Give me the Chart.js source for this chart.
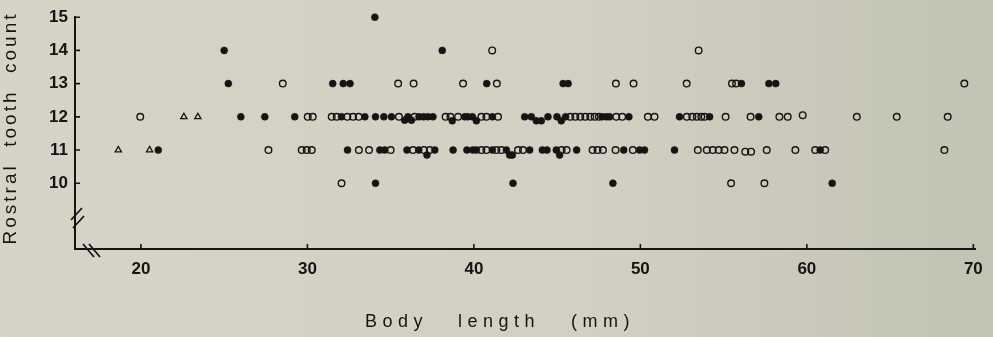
<!DOCTYPE html>
<html>
<head>
<meta charset="utf-8">
<script src="https://cdn.jsdelivr.net/npm/chart.js@4.4.1/dist/chart.umd.min.js"></script>
<style>
    html, body { margin: 0; padding: 0; background: #d4d0c4; }
    canvas { display: block; }
</style>
</head>
<body>
<canvas id="toothChart" width="993" height="337"></canvas>
<script>
const xTicks = [20, 30, 40, 50, 60, 70];
const yTicks = [10, 11, 12, 13, 14, 15];

// [body length, tooth count]; a few counts are nudged where marks overlap in the figure
const filledPoints = [
    [34.05, 15],
    [25.0, 14], [38.1, 14],
    [25.25, 13], [31.52, 13], [32.15, 13], [32.56, 13], [40.77, 13], [45.36, 13], [45.66, 13],
    [56.07, 13], [57.72, 13], [58.13, 13],
    [26.0, 12], [27.44, 12], [29.24, 12], [32.05, 12], [33.45, 12], [34.09, 12], [34.59, 12],
    [35.05, 12], [35.84, 11.9], [36.04, 12], [36.25, 11.9], [36.7, 12], [36.98, 12], [37.24, 12],
    [37.54, 12], [38.7, 11.88], [39.45, 12], [39.63, 12], [39.91, 12], [40.15, 11.88], [41.11, 12],
    [43.05, 12], [43.45, 12], [43.75, 11.88], [44.05, 11.88], [44.45, 12], [44.99, 12],
    [45.25, 11.88], [45.51, 12], [47.7, 12], [47.95, 12], [48.15, 12], [49.31, 12], [52.35, 12],
    [54.16, 12], [57.11, 12],
    [21.04, 11], [32.41, 11], [34.35, 11], [34.65, 11], [35.98, 11], [36.69, 11], [37.18, 10.85],
    [37.65, 11], [38.75, 11], [39.58, 11], [39.94, 11], [40.15, 11], [41.11, 11], [41.95, 11],
    [42.15, 10.85], [42.31, 10.85], [43.35, 11], [44.11, 11], [44.39, 11], [44.95, 11],
    [45.15, 10.85], [46.17, 11], [49.0, 11], [49.95, 11], [50.25, 11], [52.05, 11], [60.8, 11],
    [34.09, 10], [42.35, 10], [48.35, 10], [61.52, 10]
];

const openPoints = [
    [41.1, 14], [53.5, 14],
    [28.52, 13], [35.45, 13], [36.38, 13], [39.35, 13], [41.38, 13], [48.53, 13], [49.59, 13],
    [52.78, 13], [55.5, 13], [55.75, 13], [69.46, 13],
    [19.96, 12], [30.02, 12], [30.32, 12], [31.46, 12], [31.76, 12], [32.4, 12], [32.74, 12],
    [33.08, 12], [35.5, 12], [36.44, 12], [38.3, 12], [38.59, 12], [39.05, 12], [40.45, 12],
    [40.75, 12], [41.45, 12], [45.79, 12], [46.09, 12], [46.39, 12], [46.69, 12], [46.99, 12],
    [47.25, 12], [47.51, 12], [48.55, 12], [48.91, 12], [50.45, 12], [50.85, 12], [52.79, 12],
    [53.12, 12], [53.39, 12], [53.66, 12], [53.86, 12], [55.12, 12], [56.62, 12], [58.35, 12],
    [58.85, 12], [59.75, 12.05], [63.0, 12], [65.4, 12], [68.46, 12],
    [27.66, 11], [29.66, 11], [29.96, 11], [30.26, 11], [33.09, 11], [33.7, 11], [35.0, 11],
    [36.34, 11], [37.0, 11], [37.35, 11], [40.45, 11], [40.75, 11], [41.35, 11], [41.65, 11],
    [42.65, 11], [42.95, 11], [45.27, 11], [45.57, 11], [47.13, 11], [47.43, 11], [47.75, 11],
    [48.51, 11], [49.55, 11], [53.45, 11], [53.99, 11], [54.35, 11], [54.7, 11], [55.05, 11],
    [55.65, 11], [56.3, 10.95], [56.65, 10.95], [57.59, 11], [59.31, 11], [60.5, 11], [61.1, 11],
    [68.26, 11],
    [32.05, 10], [55.45, 10], [57.45, 10]
];

const trianglePoints = [
    [22.58, 12], [23.42, 12],
    [18.64, 11], [20.52, 11]
];

const ink = "#141414";

function toXY(points) {
    return points.map(p => ({ x: p[0], y: p[1] }));
}

// paper tone, slightly greyer to the right like the scan
const paperPlugin = {
    id: "paper",
    beforeDraw(chart) {
        const c = chart.ctx;
        const g = c.createLinearGradient(0, 0, chart.width, 0);
        g.addColorStop(0, "#d7d3c7");
        g.addColorStop(0.6, "#d2cfc3");
        g.addColorStop(1, "#c2c3b3");
        c.save();
        c.fillStyle = g;
        c.fillRect(0, 0, chart.width, chart.height);
        c.restore();
    }
};

// inward tick marks, axis breaks and the spaced axis titles
const decorPlugin = {
    id: "decor",
    afterDraw(chart) {
        const c = chart.ctx;
        const area = chart.chartArea;
        const xs = chart.scales.x;
        const ys = chart.scales.y;
        c.save();
        c.strokeStyle = ink;
        c.lineWidth = 1.6;
        c.beginPath();
        yTicks.forEach(v => {
            const py = ys.getPixelForValue(v);
            c.moveTo(area.left, py);
            c.lineTo(area.left + 5, py);
        });
        xTicks.forEach(v => {
            const px = xs.getPixelForValue(v);
            c.moveTo(px, area.bottom);
            c.lineTo(px, area.bottom - 5);
        });
        c.stroke();

        c.lineWidth = 1.8;
        c.beginPath();
        c.moveTo(area.left - 4, area.bottom - 29);
        c.lineTo(area.left + 7, area.bottom - 41);
        c.moveTo(area.left - 2, area.bottom - 21);
        c.lineTo(area.left + 9, area.bottom - 33);
        c.moveTo(area.left + 8, area.bottom - 5);
        c.lineTo(area.left + 19, area.bottom + 8);
        c.moveTo(area.left + 14, area.bottom - 5);
        c.lineTo(area.left + 25, area.bottom + 8);
        c.stroke();

        c.fillStyle = ink;
        c.font = '18px "Liberation Sans", Arial, sans-serif';
        c.letterSpacing = "5.5px";
        c.textAlign = "left";
        c.textBaseline = "alphabetic";
        c.fillText("Body", 365, 327);
        c.fillText("length", 458, 327);
        c.fillText("(mm)", 571, 327);

        c.font = '19px "Liberation Sans", Arial, sans-serif';
        c.translate(11, 128);
        c.rotate(-Math.PI / 2);
        c.letterSpacing = "3px";
        c.textAlign = "center";
        c.textBaseline = "middle";
        c.fillText("Rostral  tooth  count", 0, 0);
        c.restore();
    }
};

const tickFont = { family: '"Liberation Sans", Arial, sans-serif', size: 17, weight: "bold" };

new Chart(document.getElementById("toothChart"), {
    type: "scatter",
    data: {
        datasets: [
            {
                data: toXY(openPoints),
                pointStyle: "circle",
                pointRadius: 3.3,
                borderWidth: 1.4,
                borderColor: ink,
                backgroundColor: "rgba(0,0,0,0)",
                clip: false
            },
            {
                data: toXY(filledPoints),
                pointStyle: "circle",
                pointRadius: 3.5,
                borderWidth: 0.5,
                borderColor: ink,
                backgroundColor: ink,
                clip: false
            },
            {
                data: toXY(trianglePoints),
                pointStyle: "triangle",
                pointRadius: 3.6,
                borderWidth: 1.3,
                borderColor: ink,
                backgroundColor: "rgba(0,0,0,0)",
                clip: false
            }
        ]
    },
    options: {
        responsive: false,
        animation: false,
        devicePixelRatio: 1,
        layout: { padding: { top: 15, right: 18, left: 0, bottom: 0 } },
        plugins: {
            legend: { display: false },
            tooltip: { enabled: false }
        },
        scales: {
            x: {
                type: "linear",
                min: 16.04,
                max: 70.1,
                afterBuildTicks: scale => { scale.ticks = xTicks.map(v => ({ value: v })); },
                afterFit: scale => { scale.height = 88; },
                ticks: { font: tickFont, color: ink, padding: 10, maxRotation: 0 },
                grid: { drawOnChartArea: false, drawTicks: false },
                border: { color: ink, width: 2 }
            },
            y: {
                type: "linear",
                min: 8.02,
                max: 15,
                afterBuildTicks: scale => { scale.ticks = yTicks.map(v => ({ value: v })); },
                afterFit: scale => { scale.width = 75; },
                ticks: { font: tickFont, color: ink, padding: 7 },
                grid: { drawOnChartArea: false, drawTicks: false },
                border: { color: ink, width: 2 }
            }
        }
    },
    plugins: [paperPlugin, decorPlugin]
});
</script>
</body>
</html>
